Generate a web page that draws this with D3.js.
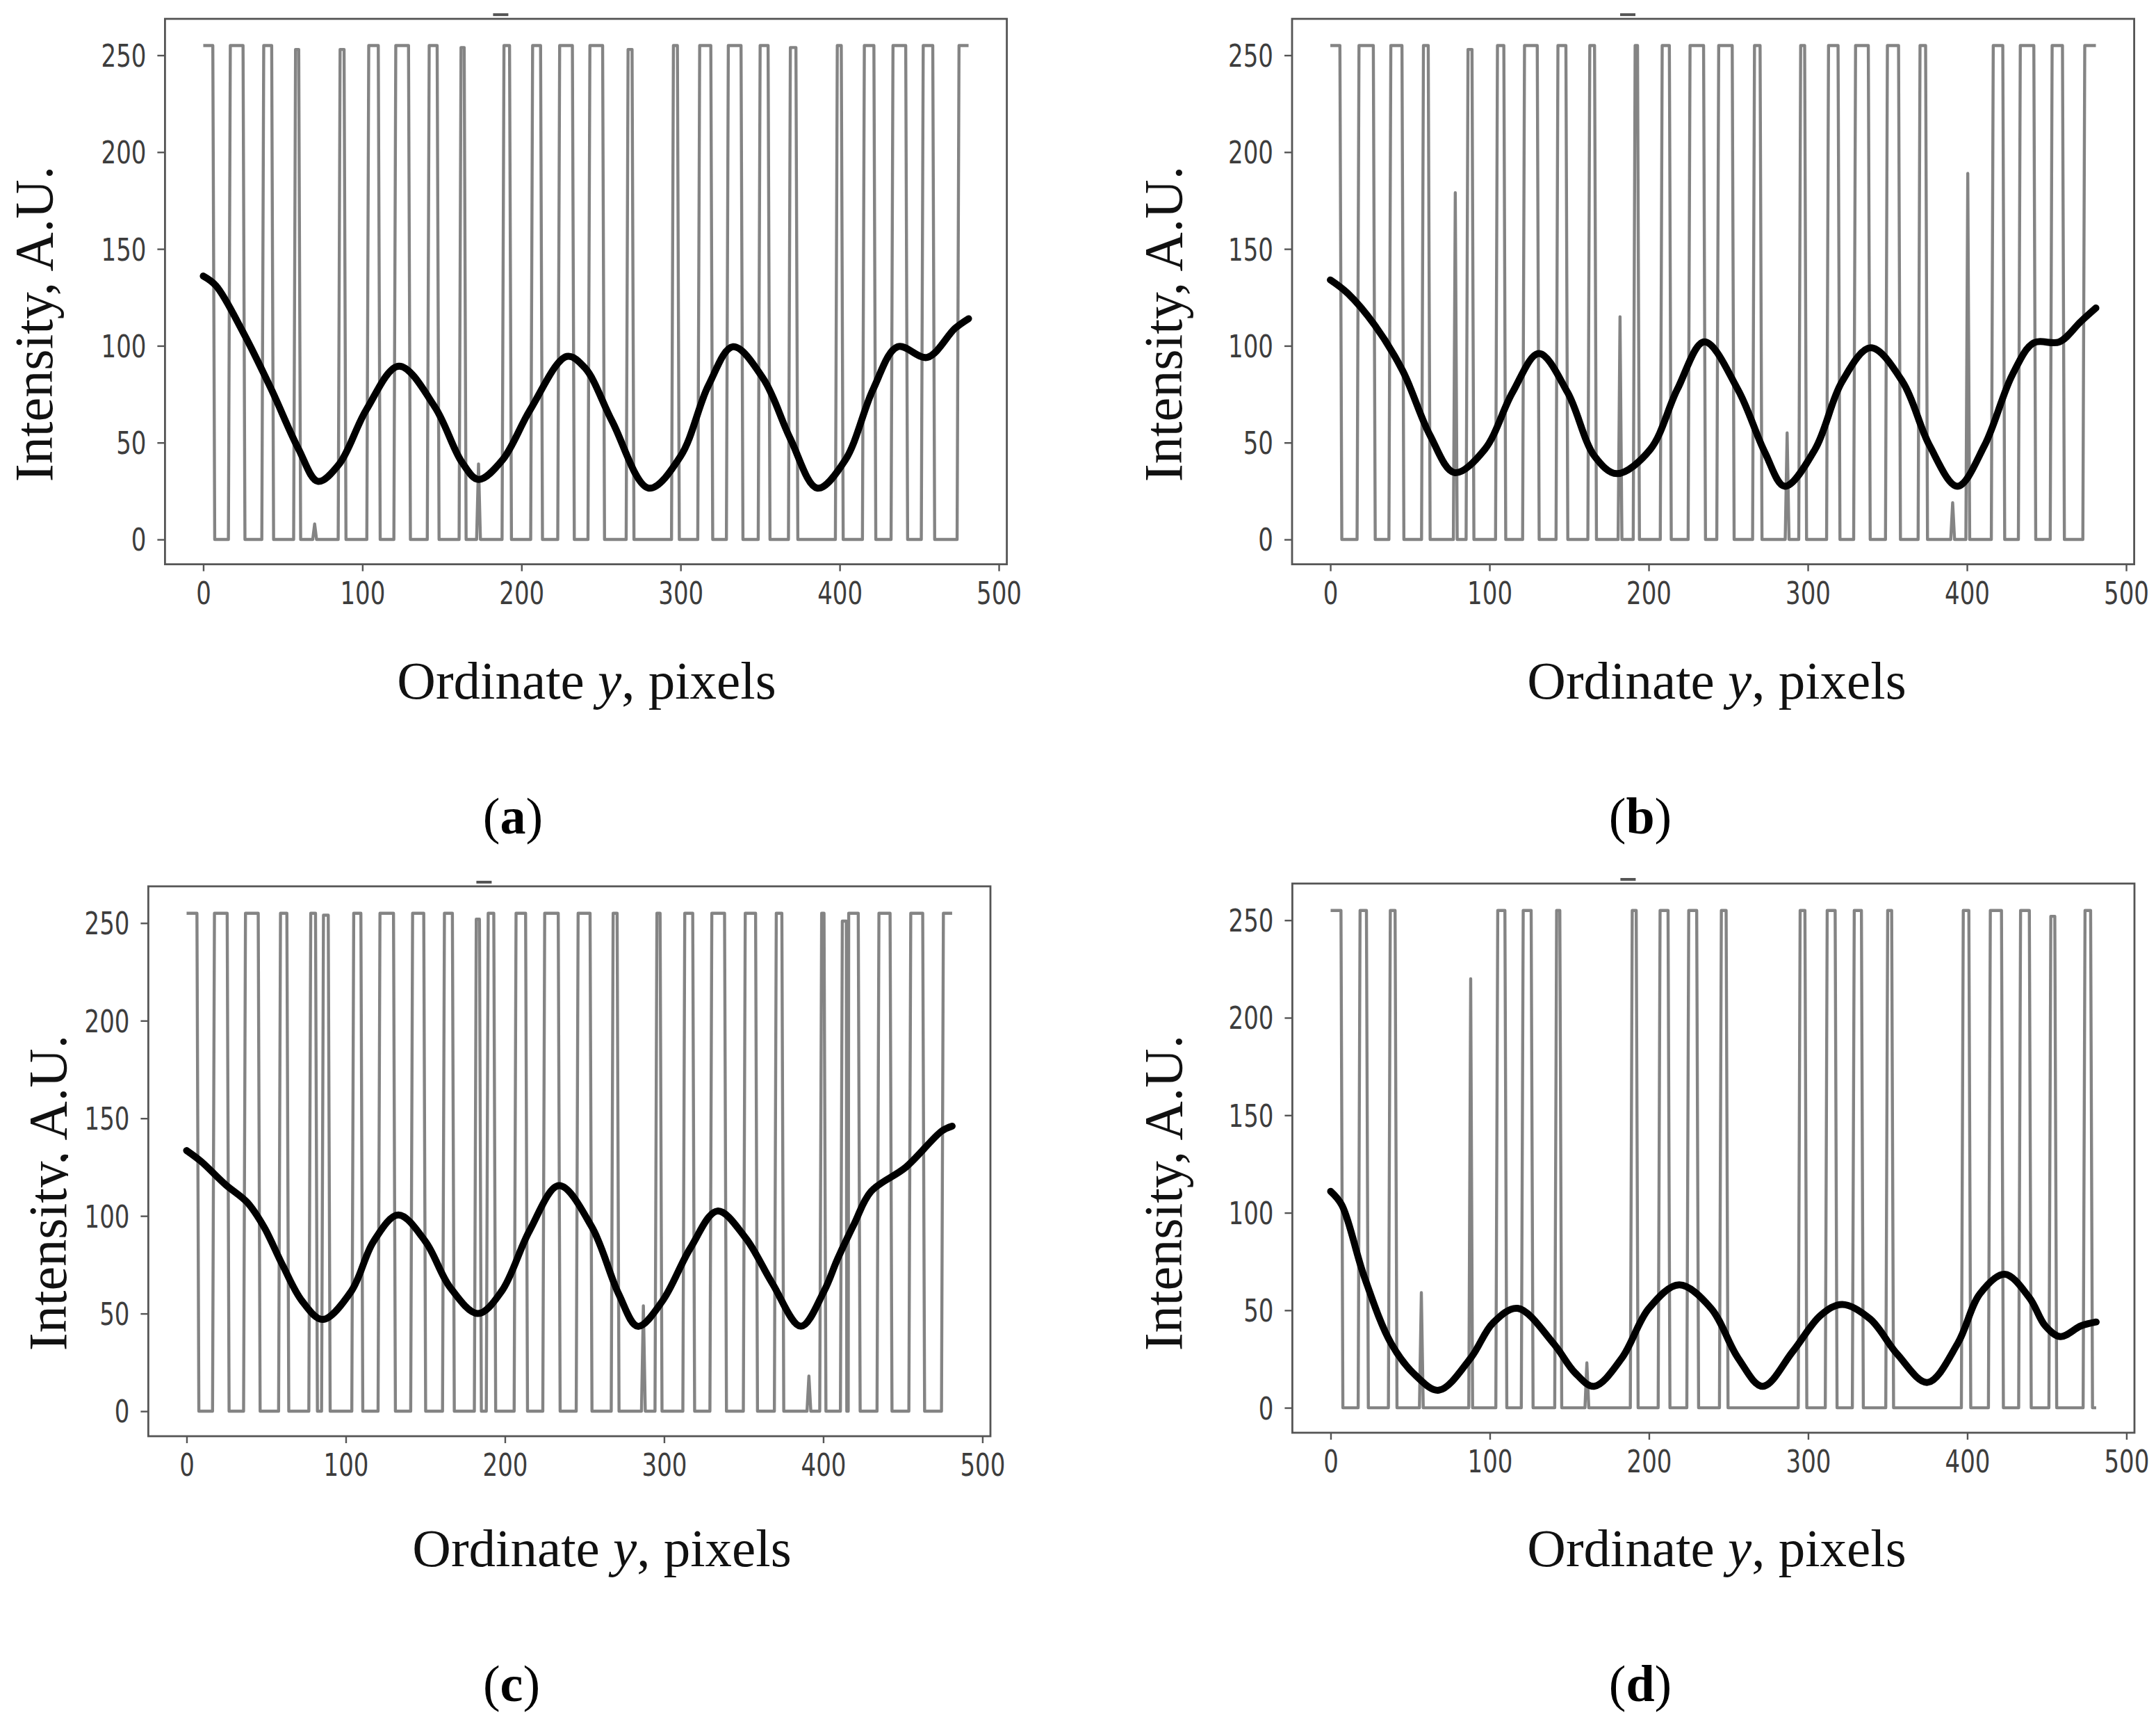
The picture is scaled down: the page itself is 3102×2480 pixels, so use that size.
<!DOCTYPE html>
<html><head><meta charset="utf-8">
<script src="https://cdn.jsdelivr.net/npm/d3@7"></script>
<style>body{margin:0;background:#fff}</style>
</head><body>
<svg id="chart" width="3102" height="2480"></svg>
<script>
// ---------- data ----------
const xTicks = [0, 100, 200, 300, 400, 500];
const yTicks = [0, 50, 100, 150, 200, 250];
const panelLetters = ["a", "b", "c", "d"];
const xLabel = ["Ordinate ", "y", ", pixels"];
const yLabel = "Intensity, A.U.";
const traceEnd = 481;

// binarised profile: high intervals [rise, fall, top(optional, default 255)]
const pulsesA = [[0,6],[17,25],[38,43],[58,60,253],[86,88.5,253],[104,110],[121,129],[142,147],[162,164,254],[189,192.5],[207,212],[224,232],[243,251],[267,269.5,253],[295.5,298],[312,319],[330,338],[350,355],[369,372.5,254],[398.5,401],[415.5,421.5],[433.5,441.5],[452.5,458.5],[475,481]];
const spikesA = [[70,8],[173,39]];
const smoothA = [[0,136],[8,131],[25,107],[42.5,78],[60,46.5],[72,30],[85.5,39],[102.5,67],[123,89.5],[145.5,68.5],[162.5,40],[173,31],[188,41],[205.5,67],[228.5,94.5],[240,88.5],[257,61],[280,26.5],[300,43],[317.5,79.5],[333,99.5],[352,83],[369,52],[386,26.5],[403.5,41],[421,77.5],[436.5,99.5],[455,94],[472.5,109],[481,114]];

const pulsesB = [[0,6],[18,27],[38,45],[58.5,61.5],[86.5,89,253],[105,109],[122,130],[143,148],[163,166],[191.5,193],[208.5,213],[226,234.5],[244,252.5],[266.5,270],[295.5,298],[313,319],[330,338],[350,357],[370.5,374],[416.5,422.5],[433.5,442],[453.5,460],[474,481]];
const spikesB = [[78.5,179],[182,115],[287,55],[391,19],[400.5,189]];
const smoothB = [[0,134],[11,127],[28,110.5],[45.5,87],[62.5,54],[78,34.5],[97,46.5],[114.5,76],[131,96],[149,76],[166,43],[180,34],[201,46.5],[218,77.5],[235,102],[256,77.5],[273,45],[285.5,27.5],[304.5,46.5],[321.5,81.5],[339.5,99],[359.5,81.5],[376.5,48.5],[394,27.5],[411,48.5],[428.5,85],[442,101.5],[458,102],[471.5,112.5],[481,119.5]];

const pulsesC = [[0,6.5],[17.5,25.5],[37,45],[59,63],[78,81],[86,89,254],[105,109.5],[121.5,130],[142,149],[162,167],[182,184,252],[189.5,193],[207,213],[225,233.5],[246,253.5],[268,270.5],[295.5,297.5],[313,318],[330,338],[351,357.5],[370.5,374],[399,400.5],[412,414.5,251],[416,422],[435,442],[455,462.5],[475.5,481]];
const spikesC = [[287,54],[391,18]];
const smoothC = [[0,133.5],[9,128],[24.5,116],[38,107],[48.5,94.5],[60.5,74.5],[72.5,56.5],[85.5,47],[103.5,61.5],[117.5,87],[133,100.5],[150,87],[165.5,63.5],[183,50],[198,61.5],[215.5,92.5],[234,115.5],[254.5,94.5],[271.5,60],[283.5,43.5],[299,56.5],[316.5,83.5],[333.5,102.5],[351,89],[368,65.5],[386,43.5],[400.5,61.5],[409,78],[419.5,96],[430,112.5],[452,125],[474.5,143.5],[481,146]];

const pulsesD = [[0,6.5],[18.5,22.5],[37.5,40.5],[105,109.5],[121,126],[142,144],[189.5,192],[207,212],[225,230],[245.5,248.5],[295,298],[312,317],[329,333.5],[350,352.5],[397.5,401],[414.5,421.5],[433.5,439],[452.5,455,252],[474,477.5]];
const spikesD = [[57,59],[88,220],[161,23]];
const smoothD = [[0,111],[7,104],[21,67.5],[38,33],[53.5,16.5],[68,9],[88,25.5],[102,43.5],[117.5,51],[140,33],[153.5,18],[165.5,11],[183,25.5],[200,51],[219,63],[239,51],[256,25.5],[271.5,11],[290.5,29],[308,47.5],[321.5,53],[339,45.5],[356,27.5],[375,13],[394,33],[408,58.5],[423.5,68.5],[439,56.5],[449,42],[458.5,36.5],[471.5,42],[481,44]];

// ---------- layout ----------
const panels = [
  {letter: panelLetters[0], pulses: pulsesA, spikes: spikesA, smooth: smoothA,
   left: 237.4, top: 27.1, right: 1448.6, bottom: 811.7,
   ylabX: 75, ylabY: 466, xlabX: 844, xlabY: 1005, capX: 738, capY: 1199},
  {letter: panelLetters[1], pulses: pulsesB, spikes: spikesB, smooth: smoothB,
   left: 1859, top: 27.1, right: 3070.6, bottom: 811.7,
   ylabX: 1700, ylabY: 466, xlabX: 2470, xlabY: 1005, capX: 2360, capY: 1199},
  {letter: panelLetters[2], pulses: pulsesC, spikes: spikesC, smooth: smoothC,
   left: 213.4, top: 1275, right: 1425, bottom: 2066,
   ylabX: 95, ylabY: 1716, xlabX: 866, xlabY: 2253, capX: 736, capY: 2447, clipLab: 98},
  {letter: panelLetters[3], pulses: pulsesD, spikes: spikesD, smooth: smoothD,
   left: 1859.4, top: 1271, right: 3071, bottom: 2061,
   ylabX: 1700, ylabY: 1716, xlabX: 2470, xlabY: 2253, capX: 2360, capY: 2447}
];

const RAMP = 1.2;
function buildTrace(pulses, spikes, end) {
  const pts = [];
  pulses.forEach(p => {
    const a = p[0], b = p[1], h = p.length > 2 ? p[2] : 255;
    if (a <= 0) pts.push([0, h]); else { pts.push([a - RAMP, 0]); pts.push([a, h]); }
    if (b >= end) pts.push([end, h]); else { pts.push([b, h]); pts.push([b + RAMP, 0]); }
  });
  spikes.forEach(s => { pts.push([s[0] - RAMP, 0], [s[0], s[1]], [s[0] + RAMP, 0]); });
  pts.sort((p, q) => p[0] - q[0]);
  if (pts[pts.length - 1][0] < end) pts.push([end, 0]);
  return pts;
}

const svg = d3.select("#chart");
svg.append("rect").attr("width", 3102).attr("height", 2480).attr("fill", "#fff");
const defs = svg.append("defs");

const TICK_FONT = "'DejaVu Sans', Verdana, sans-serif";
const SERIF = "'Liberation Serif', 'Times New Roman', serif";
const STRETCH = 1.3;

panels.forEach((P, i) => {
  const x = d3.scaleLinear().domain([-24.05, 505.05]).range([P.left, P.right]);
  const y = d3.scaleLinear().domain([-12.8, 268.8]).range([P.bottom, P.top]);
  const g = svg.append("g");

  const cid = "clip" + i;
  defs.append("clipPath").attr("id", cid).append("rect")
    .attr("x", P.left).attr("y", P.top).attr("width", P.right - P.left).attr("height", P.bottom - P.top);

  const line = d3.line().x(d => x(d[0])).y(d => y(d[1]));
  const trace = buildTrace(P.pulses, P.spikes, traceEnd);
  g.append("path").datum(trace).attr("clip-path", `url(#${cid})`)
    .attr("d", line).attr("fill", "none").attr("stroke", "#848484")
    .attr("stroke-width", 4.4).attr("stroke-linejoin", "round");

  const smoothLine = d3.line().x(d => x(d[0])).y(d => y(d[1])).curve(d3.curveCatmullRom.alpha(0.5));
  g.append("path").datum(P.smooth).attr("d", smoothLine).attr("fill", "none")
    .attr("stroke", "#000").attr("stroke-width", 10).attr("stroke-linecap", "round")
    .attr("stroke-linejoin", "round");

  g.append("rect").attr("x", P.left).attr("y", P.top)
    .attr("width", P.right - P.left).attr("height", P.bottom - P.top)
    .attr("fill", "none").attr("stroke", "#555").attr("stroke-width", 2.8);

  g.append("line").attr("x1", P.left + 472).attr("x2", P.left + 494)
    .attr("y1", P.top - 6).attr("y2", P.top - 6).attr("stroke", "#555").attr("stroke-width", 4);

  const ax = g.append("g").attr("transform", `translate(0,${P.bottom})`)
    .call(d3.axisBottom(x).tickValues(xTicks).tickSize(10).tickPadding(10).tickFormat(d3.format("d")));
  const ay = g.append("g").attr("transform", `translate(${P.left},0)`)
    .call(d3.axisLeft(y).tickValues(yTicks).tickSize(11).tickPadding(16).tickFormat(d3.format("d")));
  [ax, ay].forEach(a => {
    a.select(".domain").remove();
    a.selectAll(".tick line").attr("stroke", "#555").attr("stroke-width", 2.4);
    a.selectAll(".tick text").attr("fill", "#3d3d3d").attr("font-family", TICK_FONT)
      .attr("font-size", 34).attr("transform", `scale(1,${STRETCH})`);
  });
  ay.selectAll(".tick text").attr("dy", "0.36em");

  let yl = svg.append("g");
  if (P.clipLab) {
    const lid = "labclip" + i;
    defs.append("clipPath").attr("id", lid).append("rect")
      .attr("x", 0).attr("y", P.top).attr("width", P.clipLab).attr("height", P.bottom - P.top);
    yl.attr("clip-path", `url(#${lid})`);
  }
  yl.append("text").attr("transform", `translate(${P.ylabX},${P.ylabY}) rotate(-90)`)
    .attr("text-anchor", "middle").attr("font-family", SERIF).attr("font-size", 78)
    .attr("fill", "#111").text(yLabel);

  const xt = svg.append("text").attr("x", P.xlabX).attr("y", P.xlabY)
    .attr("text-anchor", "middle").attr("font-family", SERIF).attr("font-size", 77).attr("fill", "#111");
  xt.append("tspan").text(xLabel[0]);
  xt.append("tspan").attr("font-style", "italic").text(xLabel[1]);
  xt.append("tspan").text(xLabel[2]);

  const cap = svg.append("text").attr("x", P.capX).attr("y", P.capY)
    .attr("text-anchor", "middle").attr("font-family", SERIF).attr("font-size", 74).attr("fill", "#000");
  cap.append("tspan").text("(");
  cap.append("tspan").attr("font-weight", "bold").text(P.letter);
  cap.append("tspan").text(")");
});
</script>
</body></html>
